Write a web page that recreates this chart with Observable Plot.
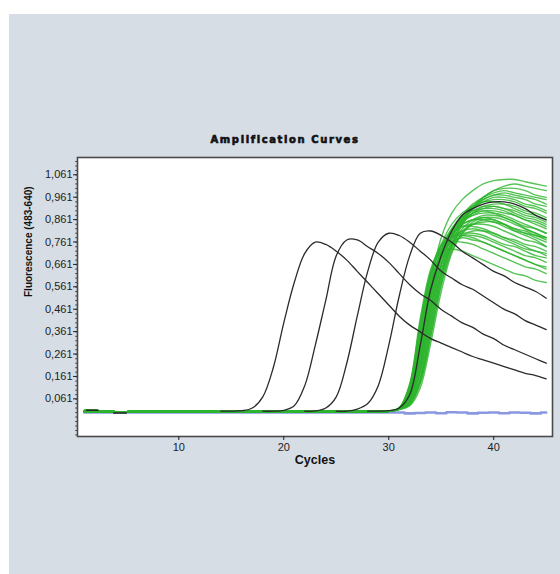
<!DOCTYPE html>
<html><head><meta charset="utf-8">
<script src="https://cdn.jsdelivr.net/npm/d3@7"></script>
<script src="https://cdn.jsdelivr.net/npm/@observablehq/plot@0.6"></script>
<style>
body{margin:0;background:#fff;width:560px;height:574px;position:relative;overflow:hidden;font-family:"Liberation Sans",Arial,sans-serif}
#panel{position:absolute;left:9px;top:14px;width:551px;height:560px;background:#d6dde5}
#chart{position:absolute;left:0;top:0}
#title{position:absolute;top:133px;left:160px;width:250px;text-align:center;font-family:"DejaVu Sans",sans-serif;font-weight:bold;font-size:10px;letter-spacing:1.6px;line-height:14px;color:#111;-webkit-text-stroke:0.6px #111}
</style></head>
<body>
<div id="panel"></div>
<div id="chart"></div>
<div id="title">Amplification Curves</div>
<script>
const cycles = [1,2,3,4,5,6,7,8,9,10,11,12,13,14,15,16,17,18,19,20,21,22,23,24,25,26,27,28,29,30,31,32,33,34,35,36,37,38,39,40,41,42,43,44,45];
const yTickValues = [0.061,0.161,0.261,0.361,0.461,0.561,0.661,0.761,0.861,0.961,1.061];
const xTickValues = [10,20,30,40];

// green baselines, cycles 1..29
const greenBaseA = [0.006,0.006,0.005,0.004,0.004,0.004,0.004,0.004,0.004,0.004,0.004,0.004,0.004,0.004,0.004,0.004,0.004,0.004,0.004,0.004,0.004,0.004,0.004,0.004,0.004,0.004,0.004,0.004,0.004];
const greenBaseB = [0.009,0.009,0.007,0.004,0.004,0.008,0.008,0.008,0.008,0.008,0.008,0.008,0.008,0.008,0.008,0.008,0.008,0.008,0.008,0.008,0.008,0.008,0.008,0.008,0.008,0.008,0.008,0.008,0.008];
const greenBaseC = [0.002,0.002,0.002,0.002,0.002,0.001,0.001,0.001,0.001,0.001,0.001,0.001,0.001,0.001,0.001,0.001,0.001,0.001,0.001,0.001,0.001,0.001,0.001,0.001,0.001,0.001,0.001,0.001,0.001];

// green samples, cycles 30..45
const greenTails = [
 [0.005,0.02,0.12,0.40,0.62,0.72,0.73,0.72,0.70,0.68,0.66,0.64,0.62,0.61,0.59,0.58],
 [0.005,0.02,0.10,0.34,0.58,0.71,0.76,0.76,0.75,0.73,0.71,0.69,0.67,0.65,0.64,0.62],
 [0.005,0.018,0.08,0.28,0.54,0.70,0.76,0.78,0.77,0.76,0.74,0.72,0.70,0.68,0.66,0.64],
 [0.005,0.016,0.06,0.21,0.46,0.66,0.75,0.79,0.79,0.78,0.76,0.74,0.72,0.70,0.69,0.67],
 [0.005,0.02,0.11,0.37,0.61,0.73,0.78,0.80,0.80,0.79,0.77,0.75,0.74,0.72,0.70,0.69],
 [0.005,0.015,0.04,0.15,0.38,0.61,0.74,0.79,0.81,0.81,0.80,0.78,0.77,0.75,0.74,0.72],
 [0.005,0.017,0.07,0.24,0.50,0.69,0.78,0.81,0.82,0.81,0.79,0.77,0.75,0.73,0.72,0.70],
 [0.005,0.019,0.09,0.31,0.57,0.72,0.80,0.83,0.84,0.84,0.83,0.81,0.79,0.77,0.76,0.74],
 [0.005,0.015,0.05,0.18,0.42,0.63,0.75,0.81,0.84,0.85,0.85,0.83,0.81,0.80,0.78,0.76],
 [0.005,0.02,0.12,0.39,0.62,0.74,0.80,0.84,0.86,0.86,0.85,0.84,0.82,0.81,0.79,0.78],
 [0.005,0.017,0.075,0.26,0.52,0.70,0.79,0.84,0.86,0.87,0.86,0.84,0.82,0.80,0.79,0.77],
 [0.005,0.014,0.04,0.14,0.36,0.59,0.74,0.82,0.86,0.88,0.88,0.87,0.85,0.83,0.82,0.80],
 [0.005,0.018,0.085,0.30,0.56,0.72,0.81,0.86,0.88,0.89,0.89,0.88,0.86,0.84,0.82,0.80],
 [0.005,0.016,0.065,0.22,0.48,0.68,0.79,0.85,0.88,0.90,0.90,0.89,0.88,0.86,0.85,0.83],
 [0.005,0.02,0.10,0.35,0.60,0.74,0.82,0.87,0.90,0.91,0.91,0.90,0.88,0.86,0.84,0.82],
 [0.005,0.015,0.055,0.19,0.44,0.65,0.78,0.85,0.89,0.91,0.92,0.91,0.90,0.88,0.87,0.85],
 [0.005,0.018,0.08,0.28,0.54,0.71,0.81,0.87,0.90,0.92,0.92,0.91,0.89,0.87,0.86,0.84],
 [0.005,0.015,0.045,0.16,0.40,0.62,0.76,0.84,0.89,0.92,0.93,0.93,0.92,0.90,0.89,0.87],
 [0.005,0.017,0.07,0.24,0.50,0.69,0.80,0.87,0.91,0.94,0.95,0.95,0.94,0.92,0.91,0.89],
 [0.005,0.016,0.06,0.21,0.46,0.66,0.79,0.86,0.91,0.94,0.96,0.96,0.95,0.93,0.92,0.90],
 [0.005,0.019,0.09,0.31,0.57,0.72,0.82,0.88,0.92,0.95,0.97,0.97,0.96,0.95,0.93,0.92],
 [0.005,0.015,0.04,0.15,0.38,0.60,0.75,0.85,0.91,0.95,0.97,0.98,0.97,0.96,0.95,0.93],
 [0.005,0.017,0.075,0.26,0.52,0.70,0.81,0.88,0.93,0.96,0.98,0.99,0.98,0.97,0.96,0.95],
 [0.005,0.015,0.05,0.18,0.42,0.63,0.77,0.86,0.92,0.96,0.99,1.00,1.00,0.99,0.97,0.96],
 [0.005,0.014,0.035,0.13,0.34,0.57,0.73,0.84,0.91,0.96,0.99,1.01,1.02,1.01,1.00,0.99],
 [0.005,0.019,0.09,0.32,0.58,0.78,0.89,0.95,0.99,1.02,1.035,1.04,1.04,1.03,1.02,1.01],
 [0.005,0.02,0.11,0.37,0.61,0.75,0.84,0.89,0.92,0.94,0.94,0.93,0.91,0.89,0.88,0.86],
 [0.005,0.014,0.035,0.13,0.34,0.57,0.72,0.80,0.84,0.86,0.86,0.84,0.81,0.79,0.77,0.74],
 [0.005,0.02,0.12,0.40,0.63,0.75,0.80,0.83,0.83,0.82,0.80,0.78,0.76,0.74,0.72,0.71],
 [0.005,0.016,0.06,0.21,0.46,0.66,0.79,0.86,0.89,0.90,0.89,0.87,0.85,0.82,0.80,0.78],
 [0.005,0.022,0.13,0.42,0.64,0.74,0.78,0.79,0.78,0.76,0.74,0.72,0.70,0.68,0.66,0.65],
 [0.005,0.013,0.03,0.11,0.31,0.54,0.71,0.80,0.85,0.87,0.87,0.86,0.84,0.82,0.80,0.78]
];

// black curves: first cycle and values from there to cycle 45
const blackStart = [14, 18, 22, 25, 28];
const blackValues = [
 [0.006,0.006,0.008,0.02,0.07,0.20,0.40,0.58,0.71,0.76,0.75,0.72,0.68,0.63,0.58,0.53,0.48,0.43,0.39,0.36,0.33,0.31,0.29,0.27,0.25,0.235,0.22,0.205,0.19,0.175,0.165,0.15],
 [0.006,0.006,0.01,0.03,0.12,0.30,0.50,0.70,0.77,0.77,0.74,0.71,0.67,0.62,0.57,0.53,0.50,0.46,0.43,0.40,0.38,0.35,0.33,0.30,0.28,0.26,0.24,0.22],
 [0.006,0.007,0.02,0.07,0.22,0.43,0.63,0.76,0.80,0.79,0.76,0.72,0.68,0.63,0.60,0.57,0.55,0.52,0.49,0.46,0.44,0.41,0.39,0.37],
 [0.006,0.006,0.015,0.04,0.12,0.30,0.52,0.70,0.80,0.81,0.79,0.76,0.72,0.69,0.66,0.63,0.61,0.58,0.56,0.54,0.51],
 [0.006,0.006,0.008,0.02,0.08,0.30,0.55,0.70,0.81,0.88,0.91,0.93,0.94,0.94,0.93,0.91,0.88,0.86]
];
const blackStubCycles = [[1.2, 2.3], [3.8, 5.0]];
const blackStubValues = [0.010, -0.002];

// blue (negative control), cycles 1..45
const blueValues = [0,0,0,0,0,0,0,0,0,0,0,0,0,0,0,0,0,0,0,0,0,0,0,0,0,0,0,0,0,0,0,-0.004,-0.002,0,-0.003,0.001,0,-0.004,-0.001,0,-0.003,0,-0.001,-0.004,0];

// ---- build tables ----
const bases = [greenBaseA, greenBaseB, greenBaseC];
const greenRows = [];
greenTails.forEach((tail, i) => {
  const vals = bases[i % 3].concat(tail);
  vals.forEach((v, j) => greenRows.push({id: i, cycle: cycles[j], value: v}));
});
const blackRows = [];
blackValues.forEach((vals, i) => {
  const s = cycles.indexOf(blackStart[i]);
  vals.forEach((v, j) => blackRows.push({id: i, cycle: cycles[s + j], value: v}));
});
const stubRows = [];
blackStubCycles.forEach((cs, i) => cs.forEach(c => stubRows.push({id: i, cycle: c, value: blackStubValues[i]})));
const blueRows = blueValues.map((v, j) => ({cycle: cycles[j], value: v}));

const fmt = d => d.toFixed(3).replace(".", ",");

const chart = Plot.plot({
  width: 560, height: 574,
  marginLeft: 77, marginRight: 8, marginTop: 157, marginBottom: 138,
  style: {background: "transparent", fontFamily: "Liberation Sans, Arial, sans-serif", fontSize: "11px", color: "#222"},
  x: {domain: [0.35, 45.6]},
  y: {domain: [-0.107, 1.138]},
  marks: [
    Plot.frame({fill: "white", stroke: "none"}),
    Plot.line(blueRows, {x: "cycle", y: "value", stroke: "#8a98e2", strokeWidth: 2.6, curve: "step"}),
    Plot.line(greenRows, {x: "cycle", y: "value", z: "id", stroke: "#2db42d", strokeWidth: 1.4, strokeOpacity: 0.8, curve: "catmull-rom"}),
    Plot.line(blackRows, {x: "cycle", y: "value", z: "id", stroke: "#2b2b2b", strokeWidth: 1.3, curve: "catmull-rom"}),
    Plot.line(stubRows, {x: "cycle", y: "value", z: "id", stroke: "#262626", strokeWidth: 1.4}),
    Plot.frame({stroke: "#4a4a4a", strokeWidth: 1.6}),
    Plot.axisX({ticks: xTickValues, tickSize: 4, tickPadding: 3, label: null}),
    Plot.axisY({ticks: yTickValues, tickFormat: fmt, tickSize: 4, tickPadding: 1, label: null}),
    Plot.axisY({ticks: d3.range(-0.1, 1.14, 0.02), tickFormat: () => "", tickSize: 2, label: null, strokeOpacity: 0.7}),
    Plot.text(["Fluorescence (483-640)"], {frameAnchor: "left", dx: -49, rotate: -90, fontWeight: "bold", fontSize: 10, fill: "#111"}),
    Plot.text(["Cycles"], {frameAnchor: "bottom", dy: 27, fontWeight: "bold", fontSize: 12.5, fill: "#111"})
  ]
});
document.getElementById("chart").appendChild(chart);
</script>
</body></html>
